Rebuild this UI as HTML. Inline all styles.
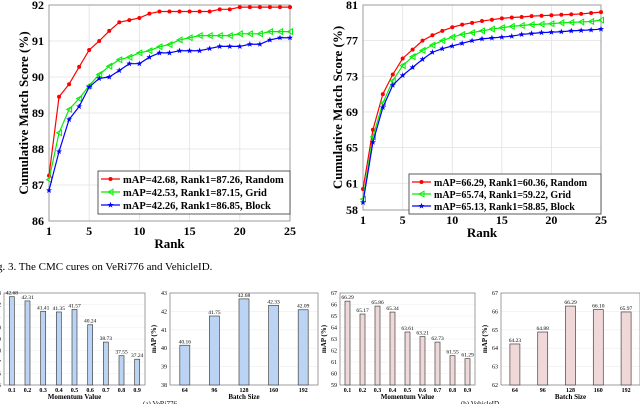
<!DOCTYPE html>
<html><head><meta charset="utf-8"><style>
body{margin:0;background:#fff;}
svg{display:block;font-family:"Liberation Serif",serif;}
</style></head><body>
<svg id="fig" width="640" height="404" viewBox="0 0 640 404">
<text x="-3" y="270" font-size="11">g. 3.  The CMC cures on VeRi776 and VehicleID.</text>
</svg>
<script>
const ranks = Array.from({length:25},(_,i)=>i+1);
const veriRandom=[87.26,89.45,89.8,90.28,90.75,91.0,91.28,91.52,91.58,91.64,91.76,91.82,91.82,91.82,91.82,91.82,91.82,91.88,91.88,91.94,91.94,91.94,91.94,91.94,91.94];
const veriGrid=[87.15,88.45,89.1,89.4,89.76,90.07,90.3,90.48,90.55,90.67,90.73,90.84,90.9,91.03,91.09,91.15,91.15,91.15,91.15,91.2,91.2,91.2,91.26,91.26,91.26];
const veriBlock=[86.85,87.93,88.82,89.18,89.72,89.96,90.0,90.18,90.37,90.37,90.55,90.67,90.67,90.73,90.73,90.73,90.79,90.85,90.85,90.85,90.91,90.91,91.03,91.09,91.09];
const vidRandom=[60.36,67.0,71.0,73.2,75.0,76.0,77.0,77.6,78.1,78.5,78.8,79.0,79.2,79.35,79.5,79.6,79.65,79.75,79.8,79.85,79.9,79.95,80.0,80.1,80.2];
const vidGrid=[59.22,66.2,70.0,72.5,74.2,75.2,75.9,76.5,77.0,77.4,77.7,77.9,78.1,78.3,78.45,78.6,78.7,78.8,78.85,78.9,79.0,79.05,79.1,79.15,79.3];
const vidBlock=[58.85,65.6,69.5,72.0,73.1,74.0,74.9,75.7,76.1,76.4,76.7,77.0,77.2,77.3,77.4,77.5,77.7,77.8,77.9,77.95,78.0,78.1,78.15,78.2,78.3];
const xTicks=[1,5,10,15,20,25];
const veriYTicks=[86,87,88,89,90,91,92];
const vidYTicks=[58,61,65,69,73,77,81];
const veriLegend=["mAP=42.68, Rank1=87.26, Random","mAP=42.53, Rank1=87.15, Grid","mAP=42.26, Rank1=86.85, Block"];
const vidLegend=["mAP=66.29, Rank1=60.36, Random","mAP=65.74, Rank1=59.22, Grid","mAP=65.13, Rank1=58.85, Block"];
const momentumCats=["0.1","0.2","0.3","0.4","0.5","0.6","0.7","0.8","0.9"];
const batchCats=["64","96","128","160","192"];
const veriMomentum=[42.68,42.31,41.41,41.35,41.57,40.24,38.73,37.55,37.24];
const veriBatch=[40.16,41.75,42.68,42.33,42.09];
const vidMomentum=[66.29,65.17,65.86,65.34,63.61,63.21,62.73,61.55,61.29];
const vidBatch=[64.23,64.88,66.29,66.10,65.97];

const svg=document.getElementById('fig');
const NS='http://www.w3.org/2000/svg';
function mk(tag,attrs,parent){const e=document.createElementNS(NS,tag);for(const k in attrs)e.setAttribute(k,attrs[k]);(parent||svg).appendChild(e);return e;}

function starPts(cx,cy,r){let p=[];for(let i=0;i<10;i++){const a=-Math.PI/2+i*Math.PI/5;const rr=i%2?r*0.4:r;p.push((cx+rr*Math.cos(a)).toFixed(1)+','+(cy+rr*Math.sin(a)).toFixed(1));}return p.join(' ');}
function marker(g,type,x,y,color){
  let m;
  if(type==='dot'){m=mk('circle',{cx:x,cy:y,r:2,fill:color},g);}
  else if(type==='tri'){m=mk('polygon',{points:`${x-2.5},${y} ${x+2.5},${y-2.8} ${x+2.5},${y+2.8}`,fill:'none',stroke:color,'stroke-width':1},g);}
  else {m=mk('polygon',{points:starPts(x,y,3.2),fill:color},g);}
  
  
}
function cmc(o){
  const g=mk('g',{});
  
  
  const X=v=>o.x0+(v-1)/(24)*(o.x1-o.x0);
  const Y=v=>o.y1-(v-o.ymin)/(o.ymax-o.ymin)*(o.y1-o.y0);
  mk('rect',{x:o.x0,y:o.y0,width:o.x1-o.x0,height:o.y1-o.y0,fill:'#fff'},g);
  o.yt.forEach(t=>{mk('line',{x1:o.x0,x2:o.x1,y1:Y(t),y2:Y(t),stroke:'#e2e2e2','stroke-width':0.8},g);
    const tx=mk('text',{x:o.x0-5,y:Y(t)+4,'font-size':12,'font-weight':'bold','text-anchor':'end'},g);tx.textContent=t;
    });
  xTicks.forEach(t=>{mk('line',{x1:X(t),x2:X(t),y1:o.y0,y2:o.y1,stroke:'#e2e2e2','stroke-width':0.8},g);
    const tx=mk('text',{x:X(t),y:o.y1+14,'font-size':12,'font-weight':'bold','text-anchor':'middle'},g);tx.textContent=t;
    });
  mk('rect',{x:o.x0,y:o.y0,width:o.x1-o.x0,height:o.y1-o.y0,fill:'none',stroke:'#888','stroke-width':0.8},g);
  const cols=['#ff0000','#00ee00','#0000ff'],types=['dot','tri','star'];
  o.series.forEach((s,i)=>{
    const pl=mk('polyline',{points:s.map((v,j)=>X(ranks[j])+','+Y(v)).join(' '),fill:'none',stroke:cols[i],'stroke-width':1.2},g);
    
    s.forEach((v,j)=>marker(g,types[i],X(ranks[j]),Y(v),cols[i]));
  });
  const lg=mk('g',{},g);
  mk('rect',{x:o.lx,y:o.ly,width:o.x1-o.lx,height:o.lh,fill:'#fff',stroke:'#333','stroke-width':0.8},lg);
  o.legend.forEach((t,i)=>{const yy=o.ly+7+i*(o.lh-4)/3+1;
    mk('line',{x1:o.lx+3,x2:o.lx+22,y1:yy,y2:yy,stroke:cols[i],'stroke-width':1.2},lg);
    marker(lg,types[i],o.lx+12.5,yy,cols[i]);
    const tx=mk('text',{x:o.lx+25,y:yy+4,'font-size':o.lfs,'font-weight':'bold'},lg);tx.textContent=t;
    });
  const yl=mk('text',{x:0,y:0,'font-size':13,'font-weight':'bold','text-anchor':'middle',transform:`translate(${o.ytx},${(o.y0+o.y1)/2}) rotate(-90)`},g);yl.textContent='Cumulative Match Score (%)';
  
  const xl=mk('text',{x:(o.x0+o.x1)/2,y:o.y1+27,'font-size':13,'font-weight':'bold','text-anchor':'middle'},g);xl.textContent='Rank';
  
}
cmc({name:'veri-cmc-chart',x0:49,x1:290,y0:5,y1:221,ymin:86,ymax:92,yt:veriYTicks,series:[veriRandom,veriGrid,veriBlock],legend:veriLegend,lx:98,ly:171,lh:43,ytx:28,lfs:10.5});
cmc({name:'vehicleid-cmc-chart',x0:363,x1:601,y0:5,y1:210,ymin:58,ymax:81,yt:vidYTicks,series:[vidRandom,vidGrid,vidBlock],legend:vidLegend,lx:409,ly:174,lh:40,ytx:342,lfs:10});

function bars(o){
  const g=mk('g',{});
  
  
  const n=o.cats.length,step=(o.x1-o.x0)/n;
  const X=i=>o.x0+step*(i+0.5);
  const Y=v=>o.y1-(v-o.ymin)/(o.ymax-o.ymin)*(o.y1-o.y0);
  for(let t=o.ymin;t<=o.ymax;t++){
    mk('line',{x1:o.x0,x2:o.x1,y1:Y(t),y2:Y(t),stroke:'#eee','stroke-width':0.6},g);
    const tx=mk('text',{x:o.x0-3,y:Y(t)+2,'font-size':6,'text-anchor':'end'},g);tx.textContent=t;
    
  }
  mk('rect',{x:o.x0,y:o.y0,width:o.x1-o.x0,height:o.y1-o.y0,fill:'none',stroke:'#777','stroke-width':0.7},g);
  o.vals.forEach((v,i)=>{
    const b=mk('rect',{x:X(i)-o.bw/2,y:Y(v),width:o.bw,height:o.y1-Y(v),fill:o.fill,stroke:'#444','stroke-width':0.7},g);
    
    const vl=mk('text',{x:X(i),y:Y(v)-2,'font-size':5.5,'text-anchor':'middle'},g);vl.textContent=v.toFixed(2);
    
    const tl=mk('text',{x:X(i),y:o.y1+7,'font-size':6,'font-weight':'bold','text-anchor':'middle'},g);tl.textContent=o.cats[i];
    
  });
  const xt=mk('text',{x:(o.x0+o.x1)/2,y:o.y1+14,'font-size':7,'font-weight':'bold','text-anchor':'middle'},g);xt.textContent=o.xt;
  
  const yt=mk('text',{x:0,y:0,'font-size':7,'font-weight':'bold','text-anchor':'middle',transform:`translate(${o.x0-14},${(o.y0+o.y1)/2}) rotate(-90)`},g);yt.textContent='mAP (%)';
  
}
bars({name:'veri-momentum-chart',x0:4,x1:145,y0:293,y1:385,ymin:35,ymax:43,cats:momentumCats,vals:veriMomentum,bw:5,fill:'#bcd4f4',xt:'Momentum Value'});
bars({name:'veri-batch-chart',x0:170,x1:318,y0:293,y1:385,ymin:38,ymax:43,cats:batchCats,vals:veriBatch,bw:10,fill:'#bcd4f4',xt:'Batch Size'});
bars({name:'vehicleid-momentum-chart',x0:340,x1:475,y0:293,y1:385,ymin:59,ymax:67,cats:momentumCats,vals:vidMomentum,bw:5,fill:'#f0d8d8',xt:'Momentum Value'});
bars({name:'vehicleid-batch-chart',x0:501,x1:640,y0:293,y1:385,ymin:62,ymax:67,cats:batchCats,vals:vidBatch,bw:10,fill:'#f0d8d8',xt:'Batch Size'});
const ca=mk('text',{x:160,y:406,'font-size':7,'text-anchor':'middle'});ca.textContent='(a) VeRi776';

const cb=mk('text',{x:480,y:406,'font-size':7,'text-anchor':'middle'});cb.textContent='(b) VehicleID';

</script>
</body></html>
